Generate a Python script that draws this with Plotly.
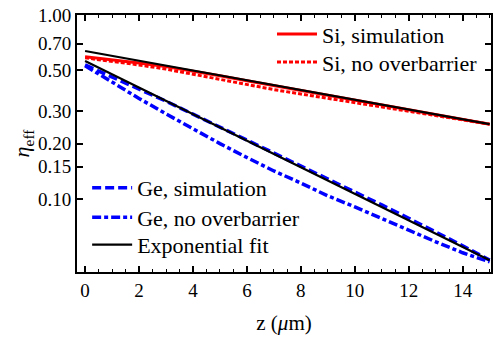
import plotly.graph_objects as go

z = [0, 1, 2, 3, 4, 5, 6, 7, 8, 9, 10, 11, 12, 13, 14, 15]

si_sim = [0.593, 0.572, 0.549, 0.524, 0.497, 0.467, 0.439, 0.413, 0.388, 0.365, 0.344, 0.324, 0.305, 0.287, 0.270, 0.255]
si_nob = [0.585, 0.562, 0.535, 0.508, 0.476, 0.445, 0.418, 0.393, 0.372, 0.352, 0.336, 0.317, 0.299, 0.283, 0.268, 0.255]
si_fit = [0.637, 0.599, 0.563, 0.529, 0.498, 0.469, 0.441, 0.415, 0.390, 0.367, 0.346, 0.325, 0.306, 0.288, 0.271, 0.255]

ge_sim = [0.535, 0.460, 0.398, 0.340, 0.289, 0.246, 0.209, 0.178, 0.152, 0.129, 0.110, 0.0928, 0.0785, 0.0663, 0.0557, 0.0465]
ge_nob = [0.530, 0.430, 0.352, 0.290, 0.240, 0.200, 0.168, 0.142, 0.122, 0.104, 0.0905, 0.078, 0.0675, 0.0585, 0.051, 0.0455]
ge_fit = [0.562, 0.476, 0.403, 0.341, 0.289, 0.245, 0.207, 0.176, 0.149, 0.126, 0.107, 0.0903, 0.0765, 0.0648, 0.0549, 0.0465]

y_ticks = [0.10, 0.15, 0.20, 0.30, 0.50, 0.70, 1.00]
y_tick_text = ["0.10", "0.15", "0.20", "0.30", "0.50", "0.70", "1.00"]
x_ticks = [0, 2, 4, 6, 8, 10, 12, 14]

FONT = "Liberation Serif"

fig = go.Figure()
fig.add_trace(go.Scatter(x=z, y=si_sim, mode="lines", name="Si, simulation",
                         line=dict(color="#ff0000", width=3), legend="legend"))
fig.add_trace(go.Scatter(x=z, y=si_nob, mode="lines", name="Si, no overbarrier",
                         line=dict(color="#ff0000", width=3, dash="4px,2px"), legend="legend2"))
fig.add_trace(go.Scatter(x=z, y=ge_sim, mode="lines", name="Ge, simulation",
                         line=dict(color="#0000ff", width=3.5, dash="9px,4px"), legend="legend3"))
fig.add_trace(go.Scatter(x=z, y=ge_nob, mode="lines", name="Ge, no overbarrier",
                         line=dict(color="#0000ff", width=3.5, dash="9px,3px,4px,3px"), legend="legend4"))
fig.add_trace(go.Scatter(x=z, y=si_fit, mode="lines", name="Exponential fit (Si)",
                         line=dict(color="black", width=2.2), showlegend=False))
fig.add_trace(go.Scatter(x=z, y=ge_fit, mode="lines", name="Exponential fit",
                         line=dict(color="black", width=2.2), legend="legend5"))

axis_common = dict(
    showline=True, linecolor="black", linewidth=2, mirror="allticks",
    ticks="inside", tickcolor="black", tickwidth=1.5, ticklen=6,
    showgrid=False, zeroline=False, automargin=False,
    tickfont=dict(family=FONT, size=19, color="black"),
)


def leg(x, y):
    return dict(x=x, y=y, xanchor="left", yanchor="middle", bgcolor="rgba(0,0,0,0)",
                font=dict(family=FONT, size=22), tracegroupgap=0, itemwidth=40)


fig.update_layout(
    width=500, height=342,
    margin=dict(l=77, r=9, t=15, b=70, autoexpand=False),
    paper_bgcolor="white", plot_bgcolor="white",
    font=dict(family=FONT, color="black"),
    xaxis=dict(range=[-0.3, 15.05], tickvals=x_ticks,
               minor=dict(dtick=0.5, tick0=0, ticks="inside", ticklen=3, tickcolor="black", tickwidth=1.2),
               title=dict(text="z (<i>μ</i>m)", font=dict(family=FONT, size=21), standoff=16),
               **axis_common),
    yaxis=dict(type="log", range=[-1.397, 0.0], tickvals=y_ticks, ticktext=y_tick_text,
               title=dict(text="<i>η</i><sub>eff</sub>", font=dict(family=FONT, size=22), standoff=2),
               **axis_common),
    legend=leg(0.471, 0.925),
    legend2=leg(0.471, 0.816),
    legend3=leg(0.0245, 0.327),
    legend4=leg(0.0245, 0.212),
    legend5=leg(0.0245, 0.106),
)

fig.write_html("out.html", config={"displayModeBar": False},
               post_script="document.body.style.margin='0px';")
